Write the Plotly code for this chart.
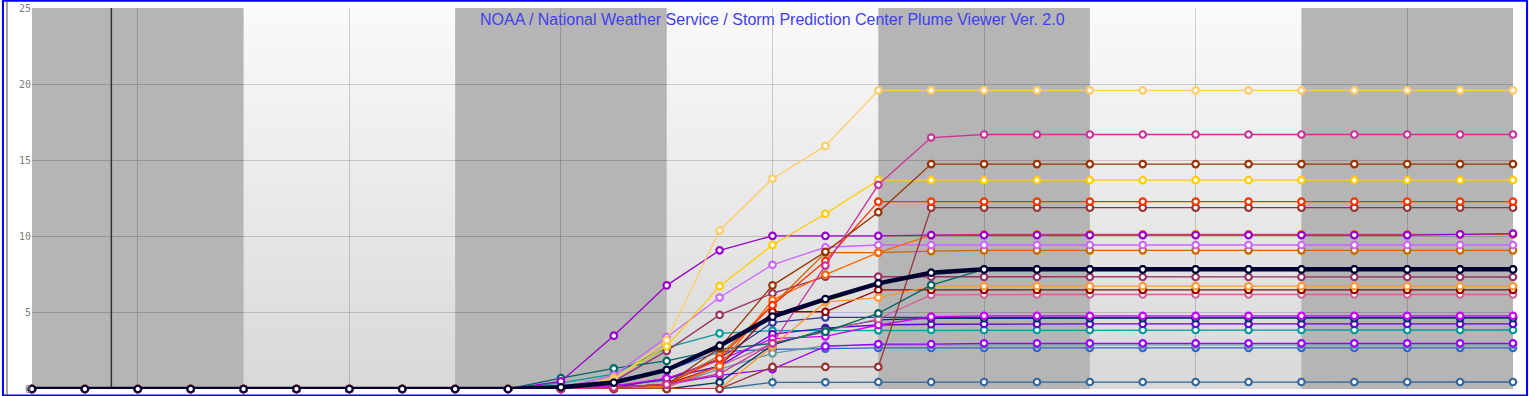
import plotly.graph_objects as go

# ---------------- data ----------------
hours = list(range(29))

s_ffcc66 = [0, 0, 0, 0, 0, 0, 0, 0, 0, 0, 0.1, 0.6, 3.2, 10.4, 13.8, 15.95, 19.6, 19.6, 19.6, 19.6, 19.6, 19.6, 19.6, 19.6, 19.6, 19.6, 19.6, 19.6, 19.6]
s_cc3399 = [0, 0, 0, 0, 0, 0, 0, 0, 0, 0, 0, 0.1, 0.3, 1.0, 3.0, 8.1, 13.4, 16.5, 16.7, 16.7, 16.7, 16.7, 16.7, 16.7, 16.7, 16.7, 16.7, 16.7, 16.7]
s_993300 = [0, 0, 0, 0, 0, 0, 0, 0, 0, 0, 0, 0.1, 0.3, 2.7, 6.8, 9.0, 11.6, 14.76, 14.76, 14.76, 14.76, 14.76, 14.76, 14.76, 14.76, 14.76, 14.76, 14.76, 14.76]
s_ffcc00 = [0, 0, 0, 0, 0, 0, 0, 0, 0, 0, 0, 0.7, 2.8, 6.75, 9.45, 11.5, 13.7, 13.7, 13.7, 13.7, 13.7, 13.7, 13.7, 13.7, 13.7, 13.7, 13.7, 13.7, 13.7]
s_ff3300 = [0, 0, 0, 0, 0, 0, 0, 0, 0, 0, 0, 0.1, 0.3, 2.0, 5.5, 8.4, 12.3, 12.3, 12.3, 12.3, 12.3, 12.3, 12.3, 12.3, 12.3, 12.3, 12.3, 12.3, 12.3]
s_993333 = [0, 0, 0, 0, 0, 0, 0, 0, 0, 0, 0, 0, 0, 0, 1.45, 1.45, 1.45, 11.9, 11.9, 11.9, 11.9, 11.9, 11.9, 11.9, 11.9, 11.9, 11.9, 11.9, 11.9]
s_9900cc = [0, 0, 0, 0, 0, 0, 0, 0, 0, 0, 0.5, 3.5, 6.8, 9.1, 10.05, 10.05, 10.05, 10.1, 10.1, 10.1, 10.1, 10.1, 10.1, 10.1, 10.1, 10.1, 10.1, 10.15, 10.2]
s_cc66ff = [0, 0, 0, 0, 0, 0, 0, 0, 0, 0, 0.1, 0.9, 3.4, 6.0, 8.15, 9.3, 9.45, 9.45, 9.45, 9.45, 9.45, 9.45, 9.45, 9.45, 9.45, 9.45, 9.45, 9.45, 9.45]
s_cc6600 = [0, 0, 0, 0, 0, 0, 0, 0, 0, 0, 0, 0.1, 0.3, 2.2, 5.5, 8.95, 8.95, 9.05, 9.1, 9.1, 9.1, 9.1, 9.1, 9.1, 9.1, 9.1, 9.1, 9.1, 9.1]
s_ff6600 = [0, 0, 0, 0, 0, 0, 0, 0, 0, 0, 0, 0, 0.2, 1.5, 5.84, 7.5, 8.95, 10.1, 10.15, 10.15, 10.15, 10.15, 10.15, 10.15, 10.15, 10.15, 10.15, 10.15, 10.15]
s_993366 = [0, 0, 0, 0, 0, 0, 0, 0, 0, 0, 0, 0.5, 2.5, 4.86, 6.28, 7.37, 7.37, 7.37, 7.35, 7.35, 7.35, 7.35, 7.35, 7.35, 7.35, 7.35, 7.35, 7.35, 7.35]
s_ff9933 = [0, 0, 0, 0, 0, 0, 0, 0, 0, 0, 0, 0, 0, 0, 2.8, 5.7, 6.0, 6.75, 6.75, 6.75, 6.75, 6.75, 6.75, 6.75, 6.75, 6.75, 6.75, 6.75, 6.75]
s_990000 = [0, 0, 0, 0, 0, 0, 0, 0, 0, 0, 0, 0.1, 0.3, 1.5, 5.07, 5.07, 6.5, 6.5, 6.5, 6.5, 6.5, 6.5, 6.5, 6.5, 6.5, 6.5, 6.5, 6.5, 6.5]
s_cc6699 = [0, 0, 0, 0, 0, 0, 0, 0, 0, 0, 0, 0, 0.1, 1.5, 3.0, 3.8, 4.6, 6.17, 6.2, 6.2, 6.2, 6.2, 6.2, 6.2, 6.2, 6.2, 6.2, 6.2, 6.2]
s_9900ff = [0, 0, 0, 0, 0, 0, 0, 0, 0, 0, 0, 0.1, 0.3, 0.9, 1.3, 2.8, 2.95, 2.95, 3.0, 3.0, 3.0, 3.0, 3.0, 3.0, 3.0, 3.0, 3.0, 3.0, 3.0]
s_cc00ff = [0, 0, 0, 0, 0, 0, 0, 0, 0, 0, 0, 0.2, 0.7, 1.9, 3.3, 3.45, 4.2, 4.75, 4.8, 4.8, 4.8, 4.8, 4.8, 4.8, 4.8, 4.8, 4.8, 4.8, 4.8]
s_003366 = [0, 0, 0, 0, 0, 0, 0, 0, 0, 0, 0, 0, 0, 0.44, 2.9, 3.9, 4.53, 4.64, 4.65, 4.65, 4.65, 4.65, 4.65, 4.65, 4.65, 4.65, 4.65, 4.65, 4.65]
s_6600cc = [0, 0, 0, 0, 0, 0, 0, 0, 0, 0, 0, 0.1, 0.7, 1.5, 3.6, 4.0, 4.2, 4.25, 4.27, 4.27, 4.27, 4.27, 4.27, 4.27, 4.27, 4.27, 4.27, 4.27, 4.27]
s_333399 = [0, 0, 0, 0, 0, 0, 0, 0, 0, 0, 0, 0.2, 0.6, 2.0, 4.37, 4.7, 4.7, 4.7, 4.7, 4.7, 4.7, 4.7, 4.7, 4.7, 4.7, 4.7, 4.7, 4.7, 4.7]
s_009999 = [0, 0, 0, 0, 0, 0, 0, 0, 0, 0, 0.4, 0.98, 2.71, 3.65, 3.83, 3.83, 3.85, 3.87, 3.87, 3.87, 3.87, 3.87, 3.87, 3.87, 3.87, 3.87, 3.87, 3.87, 3.87]
s_006666 = [0, 0, 0, 0, 0, 0, 0, 0, 0, 0, 0.72, 1.35, 1.84, 2.6, 3.0, 3.76, 4.96, 6.82, 7.85, 7.85, 7.85, 7.85, 7.85, 7.85, 7.85, 7.85, 7.85, 7.85, 7.85]
s_669999 = [0, 0, 0, 0, 0, 0, 0, 0, 0, 0, 0, 0, 0.15, 1.31, 2.34, 2.85, 2.88, 2.9, 2.9, 2.9, 2.9, 2.9, 2.9, 2.9, 2.9, 2.9, 2.9, 2.9, 2.9]
s_3366cc = [0, 0, 0, 0, 0, 0, 0, 0, 0, 0, 0.2, 0.6, 1.2, 2.45, 2.6, 2.65, 2.7, 2.7, 2.7, 2.7, 2.7, 2.7, 2.7, 2.7, 2.7, 2.7, 2.7, 2.7, 2.7]
s_336699 = [0, 0, 0, 0, 0, 0, 0, 0, 0, 0, 0, 0, 0, 0, 0.44, 0.44, 0.46, 0.46, 0.46, 0.46, 0.46, 0.46, 0.46, 0.46, 0.46, 0.46, 0.46, 0.46, 0.46]
s_mean = [0, 0, 0, 0, 0, 0, 0, 0, 0, 0, 0.11, 0.42, 1.25, 2.84, 4.75, 5.9, 6.93, 7.63, 7.85, 7.85, 7.85, 7.85, 7.85, 7.85, 7.85, 7.85, 7.85, 7.85, 7.85]

members = [
    ("#336699", s_336699), ("#3366CC", s_3366cc), ("#669999", s_669999),
    ("#9900FF", s_9900ff), ("#009999", s_009999), ("#6600CC", s_6600cc),
    ("#333399", s_333399), ("#003366", s_003366), ("#CC00FF", s_cc00ff),
    ("#CC6699", s_cc6699), ("#990000", s_990000), ("#FF9933", s_ff9933),
    ("#993366", s_993366), ("#006666", s_006666), ("#CC6600", s_cc6600),
    ("#CC66FF", s_cc66ff), ("#FF6600", s_ff6600), ("#9900CC", s_9900cc),
    ("#993333", s_993333), ("#FF3300", s_ff3300), ("#FFCC00", s_ffcc00),
    ("#993300", s_993300), ("#CC3399", s_cc3399), ("#FFCC66", s_ffcc66),
]

y_ticks = [0, 5, 10, 15, 20, 25]
x_grid = [2, 6, 10, 14, 18, 22, 26]
shade_bands = [(0, 4), (8, 12), (16, 20), (24, 28)]
marker_line_x = 1.5
title_text = "NOAA / National Weather Service / Storm Prediction Center Plume Viewer Ver. 2.0"

# ---------------- figure ----------------
fig = go.Figure()

for col, vals in members:
    fig.add_trace(go.Scatter(
        x=hours, y=vals, mode="lines+markers",
        line=dict(color=col, width=1.3),
        marker=dict(symbol="circle", size=6.5, color="white",
                    line=dict(color=col, width=2.2)),
        cliponaxis=False, hoverinfo="skip", showlegend=False))

fig.add_trace(go.Scatter(
    x=hours, y=s_mean, mode="lines+markers",
    line=dict(color="#000033", width=4.5),
    marker=dict(symbol="circle", size=6.5, color="white",
                line=dict(color="#000033", width=2.2)),
    cliponaxis=False, hoverinfo="skip", showlegend=False))

shapes = []
# vertical gradient background (white at top to light gray at bottom)
n_strips = 50
top_c, bot_c = 250, 216
for k in range(n_strips):
    y0 = 25 * k / n_strips
    y1 = 25 * (k + 1) / n_strips
    t = (k + 0.5) / n_strips
    c = round(bot_c + (top_c - bot_c) * t)
    shapes.append(dict(type="rect", xref="x", yref="y", x0=0, x1=28, y0=y0, y1=y1 + 0.02,
                       fillcolor=f"rgb({c},{c},{c})", line=dict(width=0), layer="below"))
for a, b in shade_bands:
    shapes.append(dict(type="rect", xref="x", yref="y", x0=a, x1=b, y0=0, y1=25,
                       fillcolor="#B5B5B5", line=dict(width=0), layer="below"))
shapes.append(dict(type="line", xref="x", yref="y", x0=marker_line_x, x1=marker_line_x,
                   y0=0, y1=25, line=dict(color="#333333", width=1.5), layer="between"))
# outer blue frame
shapes.append(dict(type="rect", xref="paper", yref="paper",
                   x0=-0.0196, x1=1.0095, y0=-0.0170, y1=1.0190,
                   line=dict(color="#0000FF", width=2), fillcolor="rgba(0,0,0,0)", layer="above"))
shapes.append(dict(type="line", xref="paper", yref="paper",
                   x0=-0.0169, x1=-0.0169, y0=-0.0170, y1=1.0190,
                   line=dict(color="#444444", width=1), layer="above"))

fig.update_layout(
    width=1529, height=396,
    margin=dict(l=32, r=16, t=8, b=7),
    paper_bgcolor="white", plot_bgcolor="#EEEEEE",
    shapes=shapes,
    hovermode=False,
    xaxis=dict(range=[0, 28], tickvals=x_grid, showticklabels=False, ticks="",
               showgrid=True, gridcolor="rgba(0,0,0,0.17)", gridwidth=1,
               zeroline=False, showline=False, fixedrange=True, automargin=False),
    yaxis=dict(range=[0, 25], tickvals=y_ticks, ticktext=[str(v) for v in y_ticks],
               showgrid=True, gridcolor="rgba(0,0,0,0.17)", gridwidth=1,
               zeroline=False, showline=False, ticks="",
               tickfont=dict(family="DejaVu Sans Mono", size=10, color="#808080"),
               fixedrange=True, automargin=False),
    annotations=[dict(text=title_text, xref="paper", yref="paper", x=0.5, y=1.0,
                      xanchor="center", yanchor="top", yshift=-1, showarrow=False,
                      font=dict(family="Liberation Sans, Arial", size=16, color="#3F3FF0"))],
)

fig.write_html("out.html", config={"displayModeBar": False},
               post_script="document.body.style.margin='0';document.body.style.overflow='hidden';")
